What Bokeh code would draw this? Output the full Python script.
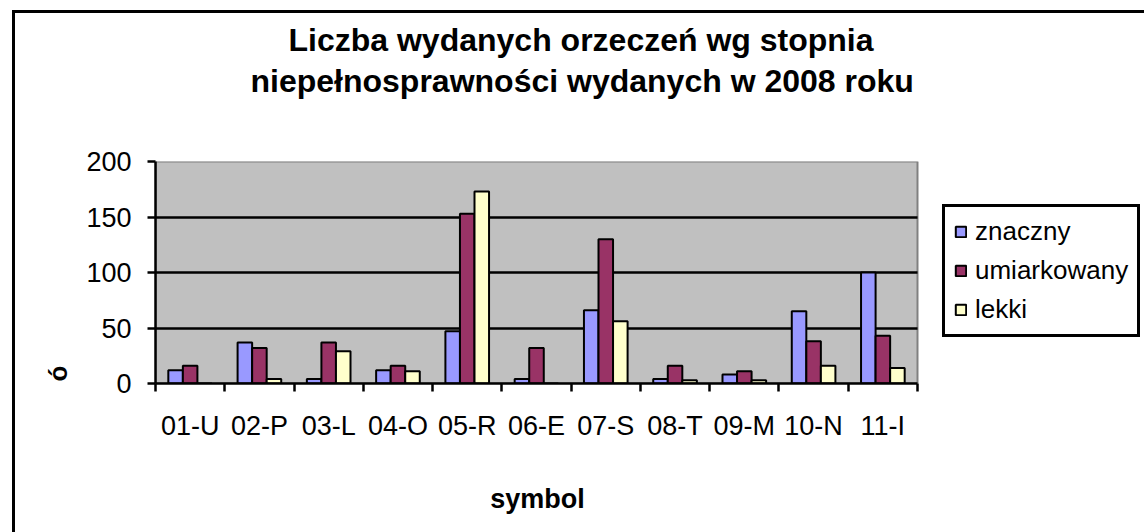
from bokeh.plotting import figure
from bokeh.models import (Range1d, FixedTicker, Title, Legend, LegendItem, BoxAnnotation)
from bokeh.embed import file_html
from bokeh.resources import INLINE

# ---- data ----
symbols = ["01-U", "02-P", "03-L", "04-O", "05-R", "06-E", "07-S", "08-T", "09-M", "10-N", "11-I"]
znaczny = [12, 37, 4, 12, 47, 4, 66, 4, 8, 65, 100]
umiarkowany = [16, 32, 37, 16, 153, 32, 130, 16, 11, 38, 43]
lekki = [0, 4, 29, 11, 173, 0, 56, 3, 3, 16, 14]
series_names = ["znaczny", "umiarkowany", "lekki"]
series_colors = ["#9999FF", "#993366", "#FFFFCC"]
y_ticks = [0, 50, 100, 150, 200]
grid_values = [50, 100, 150]
title_line1 = "Liczba wydanych orzeczeń wg stopnia"
title_line2 = "niepełnosprawności wydanych w 2008 roku"
x_title = "symbol"
y_title = "ó"

FONT = "Liberation Sans"
n = len(symbols)

W, H = 1144, 532
BL, BT, BB = 155, 161, 149
PLOT_W = 762                      # width of the grey plot area in px
frame_w = W - BL
x_end = n * frame_w / PLOT_W      # frame extends right so the legend is not clipped

p = figure(width=W, height=H, output_backend="svg", toolbar_location=None,
           x_range=Range1d(0, x_end), y_range=Range1d(0, y_ticks[-1]),
           min_border_left=BL, min_border_right=0, min_border_top=BT, min_border_bottom=BB)
# outer chart border (only its left and top edges fall inside the window)
p.styles = {"box-shadow": "inset 12px 10px 0 0 white, inset 15px 13px 0 0 black",
            "background-color": "white"}

p.background_fill_alpha = 0
p.border_fill_alpha = 0
p.outline_line_color = None

# grey plot area
p.add_layout(BoxAnnotation(left=0, right=n, bottom=0, top=y_ticks[-1], level="image",
                           fill_color="#C0C0C0", fill_alpha=1.0,
                           line_color="#808080", line_width=2, line_alpha=1.0))

# bars
bw = 0.21
offsets = [-bw, 0.0, bw]
renderers = []
for vals, off, col in zip([znaczny, umiarkowany, lekki], offsets, series_colors):
    xs = [i + 0.5 + off for i in range(n)]
    r = p.vbar(x=xs, top=vals, width=bw, bottom=0, fill_color=col,
               line_color="black", line_width=2)
    renderers.append(r)

# grid
p.xgrid.visible = False
yg = p.ygrid[0]
yg.ticker = FixedTicker(ticks=grid_values)
yg.grid_line_color = "black"
yg.grid_line_width = 2.5
yg.grid_line_alpha = 1.0
if "cross_bounds" in yg.properties():
    yg.cross_bounds = (0, n)
else:
    yg.visible = False
    p.segment(x0=[0] * len(grid_values), x1=[n] * len(grid_values),
              y0=grid_values, y1=grid_values, line_color="black", line_width=2.5,
              level="underlay")

# y axis
ya = p.yaxis[0]
ya.ticker = FixedTicker(ticks=y_ticks)
ya.axis_line_color = "black"
ya.axis_line_width = 2.5
ya.major_tick_line_color = "black"
ya.major_tick_line_width = 2.5
ya.major_tick_out = 8
ya.major_tick_in = 0
ya.minor_tick_line_color = None
ya.major_label_text_font = FONT
ya.major_label_text_font_size = "27px"
ya.major_label_text_color = "black"
ya.major_label_standoff = 16
ya.axis_label = y_title + "\u00a0" * 28
ya.axis_label_text_font = FONT
ya.axis_label_text_font_size = "26px"
ya.axis_label_text_font_style = "bold"
ya.axis_label_text_color = "black"
ya.axis_label_standoff = 10

# x axis
xa = p.xaxis[0]
centers = [i + 0.5 for i in range(n)]
xa.bounds = (0, n)
xa.ticker = FixedTicker(ticks=centers, minor_ticks=list(range(n + 1)))
xa.major_label_overrides = {c: s for c, s in zip(centers, symbols)}
xa.axis_line_color = "black"
xa.axis_line_width = 2.5
xa.major_tick_line_color = None
xa.major_tick_out = 0
xa.major_tick_in = 0
xa.minor_tick_line_color = "black"
xa.minor_tick_line_width = 2.5
xa.minor_tick_out = 8
xa.minor_tick_in = 0
xa.major_label_text_font = FONT
xa.major_label_text_font_size = "27px"
xa.major_label_text_color = "black"
xa.major_label_standoff = 19
xa.axis_label = x_title + "\u00a0" * 30
xa.axis_label_text_font = FONT
xa.axis_label_text_font_size = "27px"
xa.axis_label_text_font_style = "bold"
xa.axis_label_text_color = "black"
xa.axis_label_standoff = 40

# titles (first added is nearest to frame)
spacer_top = Title(text="\u00a0", standoff=58, text_font_size="1px")
t2 = Title(text=title_line2, align="left", offset=95, standoff=3,
           text_font=FONT, text_font_size="32px", text_font_style="bold", text_color="black")
t1 = Title(text=title_line1, align="left", offset=133, standoff=3,
           text_font=FONT, text_font_size="32px", text_font_style="bold", text_color="black")
p.add_layout(spacer_top, "above")
p.add_layout(t2, "above")
p.add_layout(t1, "above")

# legend
items = [LegendItem(label=nm, renderers=[r]) for nm, r in zip(series_names, renderers)]
legend = Legend(items=items, location=(787, 46))
legend.label_text_font = FONT
legend.label_text_font_size = "26px"
legend.label_text_color = "black"
legend.glyph_width = 13
legend.glyph_height = 13
legend.label_standoff = 8
legend.padding = 9
legend.spacing = 8
legend.margin = 0
legend.border_line_color = "black"
legend.border_line_alpha = 1.0
legend.border_line_width = 3
legend.background_fill_color = "white"
legend.background_fill_alpha = 1.0
p.add_layout(legend)

open("out.html", "w").write(file_html(p, INLINE))
